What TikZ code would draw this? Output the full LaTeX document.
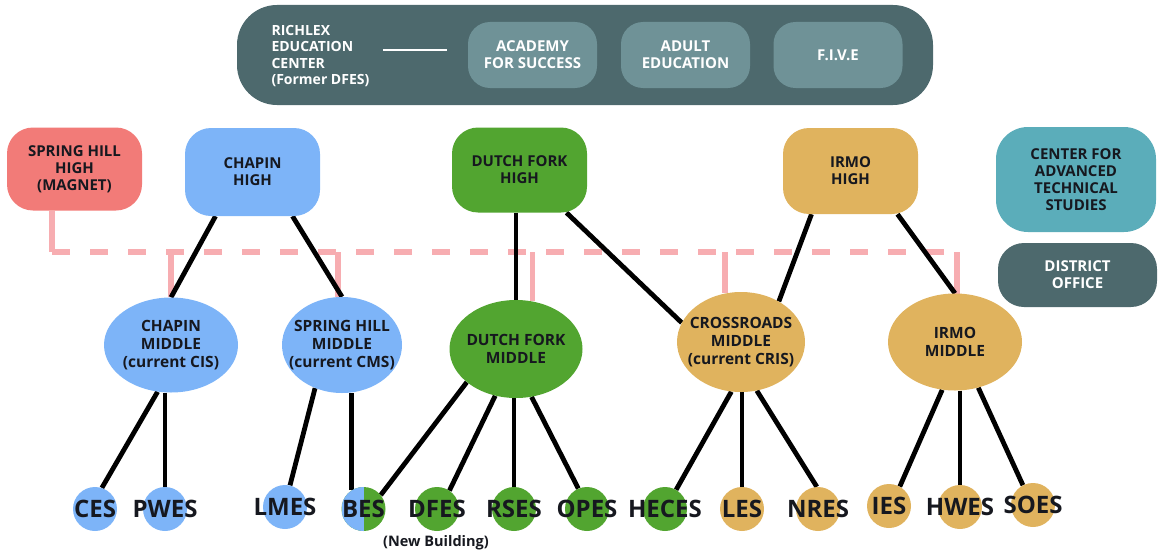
\documentclass[tikz,border=0pt]{standalone}
\usepackage{fontspec}
\setmainfont{Open Sans}
\usetikzlibrary{positioning,backgrounds,shapes.geometric}
\definecolor{slate}{HTML}{4D696D}
\definecolor{slatelt}{HTML}{6F9297}
\definecolor{shred}{HTML}{F27B78}
\definecolor{chblue}{HTML}{7DB4F8}
\definecolor{dfgreen}{HTML}{52A530}
\definecolor{irgold}{HTML}{E0B35E}
\definecolor{catsteal}{HTML}{5BADBA}
\definecolor{buspink}{HTML}{F7ADB1}
\definecolor{ink}{HTML}{16181F}

\begin{document}
\begin{tikzpicture}[x=1pt,y=-1pt,
highbox/.style={rounded corners=26pt,minimum width=135pt,text=ink,align=center,font=\fontsize{15}{17}\selectfont\bfseries},
topbox/.style={rounded corners=22pt,fill=slatelt,minimum width=129pt,minimum height=66pt,text=white,align=center,font=\fontsize{15}{17}\selectfont\bfseries},
midtxt/.style={text=ink,align=center,font=\fontsize{15.5}{18}\selectfont\bfseries},
midell/.style={ellipse,inner sep=0pt,label={[midtxt]center:#1}},
elemtxt/.style={text=ink,font=\fontsize{24}{24}\selectfont\bfseries},
elem/.style={circle,minimum size=44pt,inner sep=0pt,label={[elemtxt]center:#1}},
link/.style={line width=4.8pt,black},
bus/.style={line width=5.5pt,buspink}]
\useasboundingbox(0,0)rectangle(1158,551);
\node[fill=slate,rounded corners=40pt,minimum width=696pt,minimum height=100pt](richlex)at(585,55){};
\node[anchor=west,text=white,align=left,font=\fontsize{14}{16.5}\selectfont\bfseries](rctext)at(268,56){RICHLEX\\EDUCATION\\CENTER\\(Former DFES)};
\node[topbox](afs)at(532.5,55){ACADEMY\\FOR SUCCESS};
\node[topbox](adult)at(685.5,55){ADULT\\EDUCATION};
\node[topbox](five)at(838,55){F.I.V.E};
\draw[white,line width=1.2pt]([xshift=-85pt,yshift=5pt]afs.west)--([xshift=-21pt,yshift=5pt]afs.west);
\node[highbox,fill=shred,minimum height=83pt](shhigh)at(74.5,169){SPRING HILL\\HIGH\\(MAGNET)};
\node[highbox,fill=chblue,minimum height=88pt](chhigh)at(252.5,172){CHAPIN\\HIGH};
\node[highbox,fill=dfgreen,minimum height=85pt](dfhigh)at(519.5,170){DUTCH FORK\\HIGH};
\node[highbox,fill=irgold,minimum height=86pt](irhigh)at(850.5,171){IRMO\\HIGH};
\node[highbox,fill=catsteal,minimum width=160pt,minimum height=105pt,rounded corners=32pt](cats)at(1076,179.5){CENTER FOR\\ADVANCED\\TECHNICAL\\STUDIES};
\node[highbox,fill=slate,text=white,minimum width=159pt,minimum height=64pt](distoff)at(1077.5,275){DISTRICT\\OFFICE};
\node[midell={CHAPIN\\MIDDLE\\(current CIS)},fill=chblue,minimum width=134pt,minimum height=95pt](chmid)at(171,345){};
\node[midell={SPRING HILL\\MIDDLE\\(current CMS)},fill=chblue,minimum width=120pt,minimum height=96pt](shmid)at(342,345){};
\node[midell={DUTCH FORK\\MIDDLE},fill=dfgreen,minimum width=133pt,minimum height=98pt](dfmid)at(516,349){};
\node[midell={CROSSROADS\\MIDDLE\\(current CRIS)},fill=irgold,minimum width=128pt,minimum height=100pt](crmid)at(741,342){};
\node[midell={IRMO\\MIDDLE},fill=irgold,minimum width=134pt,minimum height=97pt](irmid)at(955,342){};
\node[elem=CES,fill=chblue](ces)at(95,509){};
\node[elem=PWES,fill=chblue](pwes)at(165,509){};
\node[elem=LMES,fill=chblue](lmes)at(285,507){};
\node[elem=BES,fill=dfgreen,path picture={\fill[chblue](path picture bounding box.south west)rectangle(path picture bounding box.north);}](bes)at(363.5,509){};
\node[elem=DFES,fill=dfgreen](dfes)at(437,509){};
\node[elem=RSES,fill=dfgreen](rses)at(514,509){};
\node[elem=OPES,fill=dfgreen](opes)at(587,509){};
\node[elem=HECES,fill=dfgreen](heces)at(665,509){};
\node[elem=LES,fill=irgold](les)at(742,509){};
\node[elem=NRES,fill=irgold](nres)at(818,509){};
\node[elem=IES,fill=irgold](ies)at(889,506){};
\node[elem=HWES,fill=irgold](hwes)at(960,507){};
\node[elem=SOES,fill=irgold](soes)at(1033,505){};
\node[below=3pt of dfes,xshift=-1pt,inner sep=1pt,text=ink,font=\fontsize{14.5}{14.5}\selectfont\bfseries](newbldg){(New Building)};
\begin{scope}[on background layer]
\coordinate(busL)at(52,252);\coordinate(busR)at(957,252);
\draw[bus](shhigh.south-|busL)--(busL);
\draw[bus,dash pattern=on 18pt off 20pt](busL)--(busR);
\draw[bus](chmid.north|-busL)--(chmid.north)(shmid.95|-busL)--(shmid.95)(dfmid.71|-busL)--(dfmid.71)(crmid.108|-busL)--(crmid.108)(busR)--(busR|-irmid.center);
\draw[link]([xshift=-37pt]chhigh.south)--(chmid.north);
\draw[link]([xshift=40pt]chhigh.south)--(shmid.north);
\draw[link](dfmid.north|-dfhigh.south)--(dfmid.north);
\draw[link]([xshift=47pt]dfhigh.south)--(crmid.162);
\draw[link]([xshift=-39pt]irhigh.south)--(crmid.47);
\draw[link]([xshift=47pt]irhigh.south)--(irmid.north);
\draw[link](chmid.-106)--(ces.72);
\draw[link](pwes.north|-chmid.south)--(pwes.north);
\draw[link](shmid.-122)--(lmes.77);
\draw[link](bes.122|-shmid.south)--(bes.122);
\draw[link](dfmid.-146)--(bes.39);
\draw[link](dfmid.-114)--(dfes.56);
\draw[link](rses.north|-dfmid.south)--(rses.north);
\draw[link](dfmid.-72)--(opes.113);
\draw[link](crmid.-101)--(heces.60);
\draw[link](les.north|-crmid.south)--(les.north);
\draw[link](crmid.-72)--(nres.93);
\draw[link](irmid.-105)--(ies.61);
\draw[link](hwes.north|-irmid.south)--(hwes.north);
\draw[link](irmid.-63)--(soes.117);
\end{scope}
\end{tikzpicture}
\end{document}
